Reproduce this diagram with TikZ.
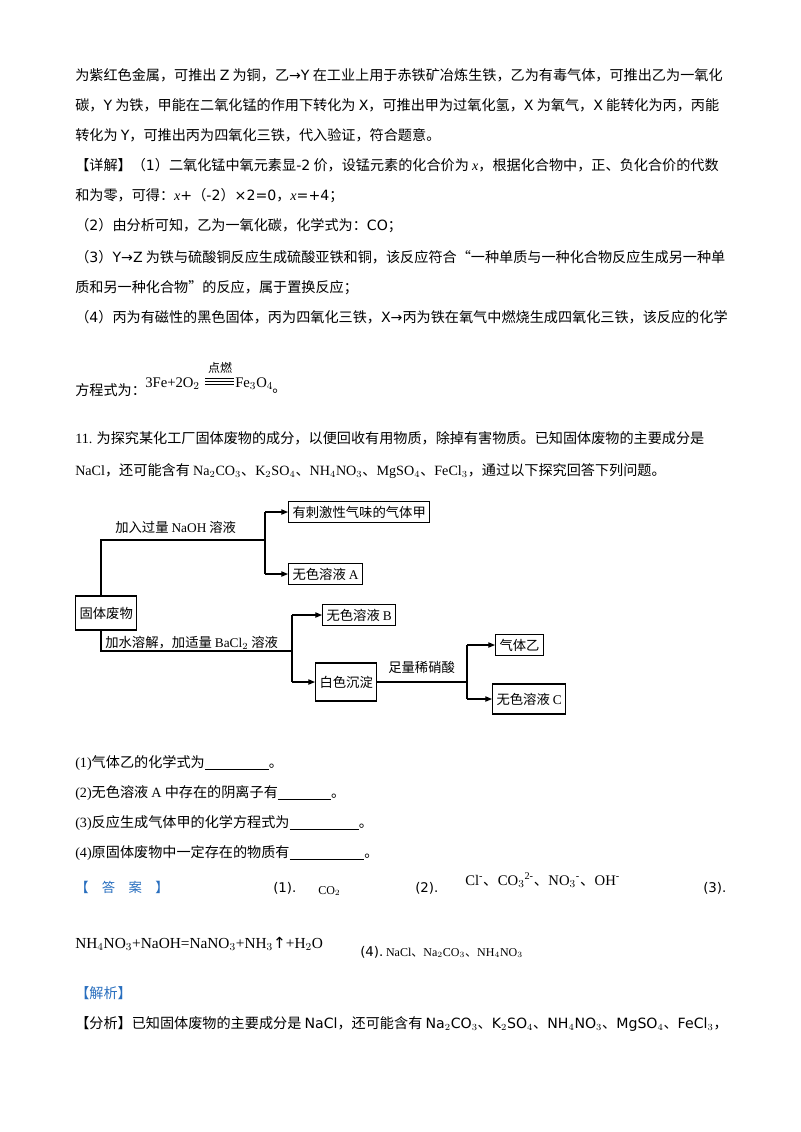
\documentclass[tikz,border=0pt]{standalone}
\usepackage{fontspec}
\setmainfont{Noto Sans CJK SC}
\newfontfamily\tm{Liberation Serif}
\newfontfamily\dv{DejaVu Sans}
\usetikzlibrary{arrows.meta}
\definecolor{hdblue}{RGB}{40,110,190}
\begin{document}
\begin{tikzpicture}[x=0.75pt,y=-0.75pt,
  tl/.style={anchor=base west,inner sep=0pt,font=\fontsize{10.6pt}{12pt}\selectfont},
  bx/.style={draw,thick,inner sep=3pt,font=\fontsize{10pt}{12pt}\selectfont,anchor=west},
  ln/.style={thick},
  ar/.style={thick,-{Triangle[length=5pt,width=4pt]}}]
\useasboundingbox (0,0) rectangle (800,1132);
\node[tl] (l1) at (75,80) {为紫红色金属，可推出 {\dv Z} 为铜，乙{\dv →Y} 在工业上用于赤铁矿冶炼生铁，乙为有毒气体，可推出乙为一氧化};
\node[tl] (l2) at (75,110) {碳，{\dv Y} 为铁，甲能在二氧化锰的作用下转化为 {\dv X}，可推出甲为过氧化氢，{\dv X} 为氧气，{\dv X} 能转化为丙，丙能};
\node[tl] (l3) at (75,140) {转化为 {\dv Y}，可推出丙为四氧化三铁，代入验证，符合题意。};
\node[tl] (l4) at (75,170) {【详解】（{\dv 1}）二氧化锰中氧元素显{\dv -2} 价，设锰元素的化合价为 {\tm\itshape x}，根据化合物中，正、负化合价的代数};
\node[tl] (l5) at (75,200) {和为零，可得：{\tm\itshape x}{\dv +}（{\dv -2}）{\dv ×2=0}，{\tm\itshape x}{\dv =+4}；};
\node[tl] (l6) at (75,230) {（{\dv 2}）由分析可知，乙为一氧化碳，化学式为：{\dv CO}；};
\node[tl] (l7) at (75,262) {（{\dv 3}）{\dv Y→Z} 为铁与硫酸铜反应生成硫酸亚铁和铜，该反应符合“一种单质与一种化合物反应生成另一种单};
\node[tl] (l8) at (75,292) {质和另一种化合物”的反应，属于置换反应；};
\node[tl] (l9) at (75,322) {（{\dv 4}）丙为有磁性的黑色固体，丙为四氧化三铁，{\dv X→}丙为铁在氧气中燃烧生成四氧化三铁，该反应的化学};
\node[tl] (l10) at (75,395) {方程式为：};
\node[anchor=base west,inner sep=0pt,font=\tm\fontsize{11pt}{12pt}\selectfont] (eq1) at (145,387) {3Fe+2O$_2$};
\node[anchor=base west,inner sep=0pt,font=\tm\fontsize{11pt}{12pt}\selectfont] (eq2) at (235,387) {Fe$_3$O$_4$};
\node[anchor=base,inner sep=0pt,font=\fontsize{9pt}{10pt}\selectfont] (dr) at (220,372) {点燃};
\draw (205,378) -- (234,378) (205,381) -- (234,381) (205,384) -- (234,384);
\node[tl] (dot) at (272,392) {。};
\node[tl] (q1) at (75,443) {{\tm 11.} 为探究某化工厂固体废物的成分，以便回收有用物质，除掉有害物质。已知固体废物的主要成分是};
\node[tl] (q2) at (75,475) {{\tm NaCl}，还可能含有 {\tm Na$_2$CO$_3$}、{\tm K$_2$SO$_4$}、{\tm NH$_4$NO$_3$}、{\tm MgSO$_4$}、{\tm FeCl$_3$}，通过以下探究回答下列问题。};
% diagram
\node[bx] (jia) at (288,512) {有刺激性气味的气体甲};
\node[bx] (A) at (288,574) {无色溶液 {\tm A}};
\node[bx,minimum height=25.5pt] (fw) at (75,613) {固体废物};
\node[bx] (B) at (322,615) {无色溶液 {\tm B}};
\node[bx,minimum height=28.5pt] (bs) at (315,682) {白色沉淀};
\node[bx] (yi) at (495,645) {气体乙};
\node[bx,minimum height=22.5pt] (C) at (492,699) {无色溶液 {\tm C}};
\coordinate (t1) at (101,540); \coordinate (t2) at (265,540);
\draw[ln] (fw.north -| t1) -- (t1) -- (t2);
\draw[ln] (265,512) -- (265,574);
\draw[ar] (265,512) -- (jia.west);
\draw[ar] (265,574) -- (A.west);
\node[tl,font=\fontsize{10pt}{12pt}\selectfont] (lbl1) at (115,532) {加入过量 {\tm NaOH} 溶液};
\coordinate (b1) at (101,651); \coordinate (b2) at (292,651);
\draw[ln] (fw.south -| b1) -- (b1) -- (b2);
\draw[ln] (292,615) -- (292,682);
\draw[ar] (292,615) -- (B.west);
\draw[ar] (292,682) -- (bs.west);
\node[tl,font=\fontsize{10pt}{12pt}\selectfont] (lbl2) at (105,647) {加水溶解，加适量 {\tm BaCl$_2$} 溶液};
\draw[ln] (bs.east) -- (467,682);
\draw[ln] (467,645) -- (467,699);
\draw[ar] (467,645) -- (yi.west);
\draw[ar] (467,699) -- (C.west);
\node[tl,font=\fontsize{10pt}{12pt}\selectfont] (lbl3) at (388,672) {足量稀硝酸};
% questions
\node[tl] (a1) at (75,767) {{\tm (1)}气体乙的化学式为{\tm\underline{\hspace{48pt}}}。};
\node[tl] (a2) at (75,797) {{\tm (2)}无色溶液 {\tm A} 中存在的阴离子有{\tm\underline{\hspace{40pt}}}。};
\node[tl] (a3) at (75,827) {{\tm (3)}反应生成气体甲的化学方程式为{\tm\underline{\hspace{52pt}}}。};
\node[tl] (a4) at (75,857) {{\tm (4)}原固体废物中一定存在的物质有{\tm\underline{\hspace{56pt}}}。};
\node[tl,text=hdblue,font=\fontsize{10pt}{12pt}\selectfont] (ans) at (75,892) {【\hspace{10pt}答\hspace{10pt}案\hspace{10pt}】};
\node[tl,font=\dv\fontsize{10pt}{12pt}\selectfont] (n1) at (273,892) {(1).};
\node[tl,font=\tm\fontsize{9pt}{12pt}\selectfont] (co2) at (318,894) {CO$_2$};
\node[tl,font=\dv\fontsize{10pt}{12pt}\selectfont] (n2) at (415,892) {(2).};
\node[tl,font=\fontsize{11pt}{12pt}\selectfont] (ions) at (465,885) {{\tm Cl\textsuperscript{-}}、{\tm CO$_3$\textsuperscript{2-}}、{\tm NO$_3$\textsuperscript{-}}、{\tm OH\textsuperscript{-}}};
\node[tl,font=\dv\fontsize{10pt}{12pt}\selectfont] (n3) at (703,892) {(3).};
\node[tl,font=\tm\fontsize{11.5pt}{12pt}\selectfont] (eq3) at (75,948) {NH$_4$NO$_3$+NaOH=NaNO$_3$+NH$_3${\dv ↑}+H$_2$O};
\node[tl,font=\fontsize{9pt}{11pt}\selectfont] (n4) at (360,956) {{\dv\fontsize{10pt}{12pt}\selectfont (4).}\ {\tm NaCl}、{\tm Na$_2$CO$_3$}、{\tm NH$_4$NO$_3$}};
\node[tl,text=hdblue] (jx) at (75,998) {【解析】};
\node[tl] (fx) at (75,1028) {【分析】已知固体废物的主要成分是 {\dv NaCl}，还可能含有 {\dv Na$_2$CO$_3$}、{\dv K$_2$SO$_4$}、{\dv NH$_4$NO$_3$}、{\dv MgSO$_4$}、{\dv FeCl$_3$}，};
\end{tikzpicture}
\end{document}
